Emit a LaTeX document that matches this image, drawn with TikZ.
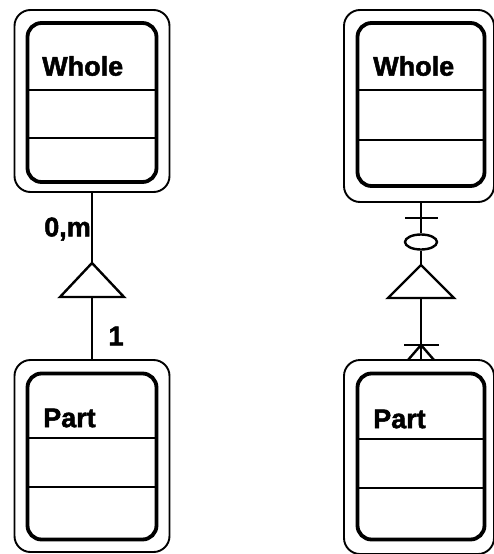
\documentclass[tikz,border=0pt]{standalone}
\usepackage{fontspec}
\setmainfont{Liberation Sans}
\newfontfamily\heavyfont[FakeBold=1.8]{Liberation Sans Bold}
\usetikzlibrary{shapes.geometric}
\begin{document}
\begin{tikzpicture}[x=1pt,y=-1pt,
  outerbox/.style={draw,line width=1.9pt,rounded corners=16pt,minimum width=155pt,inner sep=0pt},
  innerbox/.style={draw,line width=3.8pt,rounded corners=14pt,minimum width=129pt,inner sep=0pt},
  divline/.style={line width=2pt},
  conn/.style={line width=2.4pt},
  lbl/.style={font=\fontsize{27}{27}\heavyfont,inner sep=0pt},
]
\useasboundingbox (0,0) rectangle (494,554);
% left whole
\node[outerbox,minimum height=182pt] (wholeL) at (92,101) {};
\node[innerbox,minimum height=159pt] (wholeLi) at (92,102.5) {};
\draw[divline] (27.5,90) -- (156.5,90);
\draw[divline] (27.5,138) -- (156.5,138);
\node[lbl,anchor=west] (wholeLt) at (42,66) {Whole};
% left part
\node[outerbox,minimum height=192pt] (partL) at (92,456) {};
\node[innerbox,minimum height=166pt] (partLi) at (92,456.5) {};
\draw[divline] (27.5,438) -- (156.5,438);
\draw[divline] (27.5,487) -- (156.5,487);
\node[lbl,anchor=west] (partLt) at (43,418) {Part};
% left connector
\coordinate (triLtop) at (92,263);
\coordinate (triLbase) at (92,297);
\draw[conn] (wholeL.south) -- (triLtop);
\draw[conn,line join=miter] (triLtop) -- (60,297) -- (124,297) -- cycle;
\draw[conn] (triLbase) -- (partL.north);
\node[lbl,anchor=east] (cardM) at (91,229) {0,m};
\node[lbl] (cardOne) at (116,336) {1};
% right whole
\node[outerbox,minimum width=150pt,minimum height=192pt] (wholeR) at (419,106) {};
\node[innerbox,minimum width=127pt,minimum height=163pt] (wholeRi) at (421,104.5) {};
\draw[divline] (357.5,90) -- (484.5,90);
\draw[divline] (357.5,140) -- (484.5,140);
\node[lbl,anchor=west] (wholeRt) at (373,66) {Whole};
% right part
\node[outerbox,minimum width=150pt,minimum height=194pt] (partR) at (419,457) {};
\node[innerbox,minimum width=127pt,minimum height=166pt] (partRi) at (421,456.5) {};
\draw[divline] (357.5,439) -- (484.5,439);
\draw[divline] (357.5,488) -- (484.5,488);
\node[lbl,anchor=west] (partRt) at (373,419) {Part};
% right connector
\node[draw,line width=2.4pt,ellipse,minimum width=32pt,minimum height=15pt,inner sep=0pt] (optR) at (421,242) {};
\coordinate (triRtop) at (421,265);
\coordinate (triRbase) at (421,298);
\coordinate (crowR) at (421,345);
\draw[conn] (wholeR.south -| optR) -- (optR.north);
\draw[conn] (405,218) -- (438,218);
\draw[conn] (optR.south) -- (triRtop);
\draw[conn,line join=miter] (triRtop) -- (388,298) -- (454,298) -- cycle;
\draw[conn] (triRbase) -- (partR.north -| optR);
\draw[conn] (404,345) -- (439,345);
\draw[conn] (crowR) -- (408,360);
\draw[conn] (crowR) -- (434,360);
\end{tikzpicture}
\end{document}
